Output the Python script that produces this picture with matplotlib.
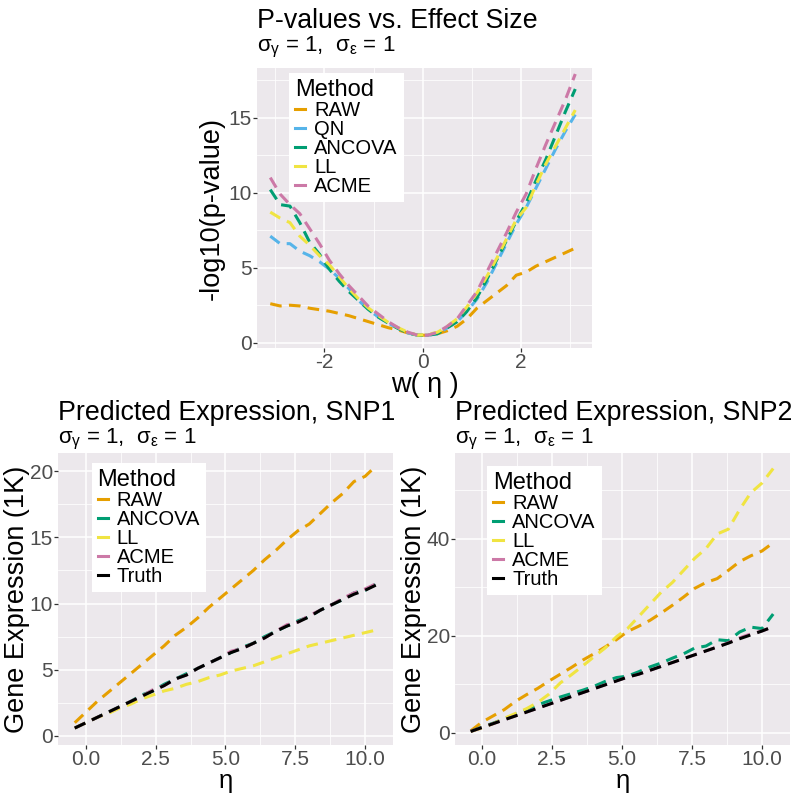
import matplotlib
matplotlib.use("Agg")
import matplotlib.pyplot as plt
from matplotlib.lines import Line2D
from matplotlib.ticker import MultipleLocator

plt.rcParams['font.family'] = ['Liberation Sans', 'DejaVu Sans']
plt.rcParams['mathtext.fontset'] = 'custom'
plt.rcParams['mathtext.rm'] = 'Liberation Sans'
plt.rcParams['mathtext.it'] = 'Liberation Sans'
plt.rcParams['mathtext.bf'] = 'Liberation Sans:bold'
plt.rcParams['axes.unicode_minus'] = False

# ---------------- data ----------------
colors = {'RAW': '#E69F00', 'QN': '#56B4E9', 'ANCOVA': '#009E73',
          'LL': '#F0E442', 'ACME': '#CC79A7', 'Truth': '#000000'}

w_eta = [-3.1, -2.9, -2.7, -2.5, -2.3, -2.1, -1.9, -1.7, -1.5, -1.3, -1.1, -0.9,
         -0.7, -0.5, -0.3, -0.1, 0.1, 0.3, 0.5, 0.7, 0.9, 1.1, 1.3, 1.5, 1.7,
         1.9, 2.1, 2.3, 2.5, 2.7, 2.9, 3.1]
p_raw = [2.6, 2.45, 2.5, 2.45, 2.3, 2.2, 2.1, 1.95, 1.8, 1.6, 1.4, 1.2, 1.0, 0.85,
         0.65, 0.5, 0.5, 0.6, 0.8, 1.1, 1.6, 2.3, 2.8, 3.3, 3.8, 4.5, 4.7, 5.1,
         5.4, 5.7, 6.0, 6.3]
p_qn = [7.1, 6.6, 6.6, 6.1, 5.8, 5.4, 4.9, 4.3, 3.6, 2.8, 2.2, 1.7, 1.3, 0.95,
        0.65, 0.5, 0.5, 0.6, 1.0, 1.4, 2.1, 2.9, 4.0, 5.3, 6.6, 7.9, 9.0, 10.3,
        11.6, 12.9, 14.1, 15.2]
p_ancova = [10.2, 9.2, 9.1, 8.0, 6.7, 5.9, 4.9, 4.1, 3.4, 2.8, 2.2, 1.7, 1.3, 0.95,
            0.65, 0.5, 0.5, 0.6, 1.0, 1.4, 2.1, 3.0, 4.2, 5.5, 6.8, 8.1, 9.3, 10.8,
            12.2, 13.8, 15.4, 16.9]
p_ll = [8.7, 8.3, 8.0, 7.1, 6.5, 5.8, 5.2, 4.4, 3.6, 2.9, 2.3, 1.8, 1.35, 1.0,
        0.7, 0.5, 0.55, 0.7, 1.1, 1.6, 2.4, 3.3, 4.4, 5.6, 6.9, 8.2, 9.0, 10.5,
        11.9, 13.1, 14.3, 15.5]
p_acme = [11.0, 9.9, 9.2, 8.6, 7.6, 6.6, 5.5, 4.6, 3.8, 3.1, 2.4, 1.9, 1.4, 1.0,
          0.7, 0.5, 0.5, 0.7, 1.1, 1.6, 2.5, 3.4, 4.7, 6.0, 7.3, 8.7, 9.9, 11.6,
          13.2, 14.7, 16.2, 17.9]

eta = [-0.4, 0.0, 0.4, 0.8, 1.2, 1.6, 2.0, 2.4, 2.8, 3.2, 3.6, 4.0, 4.4, 4.8,
       5.2, 5.6, 6.0, 6.4, 6.8, 7.2, 7.6, 8.0, 8.4, 8.8, 9.2, 9.6, 10.0, 10.4]

s1_raw = [1.0, 1.8, 2.6, 3.3, 4.0, 4.7, 5.4, 6.1, 6.8, 7.6, 8.2, 8.9, 9.7, 10.4,
          11.1, 11.8, 12.5, 13.3, 14.0, 14.8, 15.5, 16.0, 16.8, 17.6, 18.3, 19.2,
          19.6, 20.4]
s1_ancova = [0.6, 1.0, 1.4, 1.8, 2.2, 2.6, 3.1, 3.4, 3.9, 4.3, 4.7, 5.1, 5.5, 5.9,
             6.3, 6.7, 7.0, 7.5, 7.9, 8.3, 8.7, 9.0, 9.5, 9.9, 10.3, 10.8, 11.0, 11.5]
s1_ll = [0.6, 1.0, 1.4, 1.7, 2.1, 2.4, 2.8, 3.1, 3.4, 3.6, 3.9, 4.1, 4.4, 4.6,
         4.9, 5.1, 5.3, 5.6, 5.9, 6.2, 6.5, 6.8, 7.0, 7.2, 7.4, 7.6, 7.8, 8.0]
s1_acme = [0.6, 1.0, 1.4, 1.8, 2.2, 2.6, 3.0, 3.5, 3.8, 4.3, 4.6, 5.1, 5.5, 5.9,
           6.4, 6.6, 7.0, 7.4, 7.9, 8.4, 8.6, 9.1, 9.5, 9.9, 10.4, 10.8, 11.1, 11.5]
s1_truth = [0.6, 1.0, 1.4, 1.8, 2.2, 2.6, 3.0, 3.4, 3.8, 4.3, 4.6, 5.1, 5.5, 5.9,
            6.3, 6.6, 7.0, 7.4, 7.9, 8.3, 8.6, 9.0, 9.5, 9.9, 10.3, 10.7, 11.0, 11.4]

s2_raw = [0.4, 2.2, 3.5, 4.8, 6.5, 7.9, 9.2, 10.7, 12.1, 13.5, 15.0, 16.3, 17.7,
          19.2, 20.9, 22.0, 23.2, 24.7, 26.3, 28.0, 29.8, 31.0, 31.8, 33.5, 35.3,
          36.5, 37.5, 39.2]
s2_ancova = [0.3, 1.2, 2.0, 2.9, 3.8, 4.8, 5.8, 6.6, 7.4, 8.1, 8.8, 9.6, 10.6, 11.4,
             11.7, 12.6, 13.6, 14.4, 15.4, 16.3, 17.5, 17.9, 19.2, 19.0, 20.8, 21.8,
             21.5, 24.5]
s2_ll = [0.3, 1.0, 1.9, 3.0, 4.0, 5.0, 6.3, 8.0, 10.3, 12.0, 13.8, 15.7, 17.5, 19.8,
         21.5, 24.0, 26.5, 29.0, 31.0, 33.5, 36.0, 38.0, 41.0, 42.0, 46.0, 49.5,
         51.5, 54.5]
s2_acme = [0.3, 1.1, 1.9, 2.7, 3.5, 4.3, 5.1, 5.9, 6.7, 7.5, 8.3, 9.1, 9.9, 10.7,
           11.5, 12.1, 12.9, 13.7, 14.5, 15.3, 16.1, 16.9, 17.7, 18.6, 19.6, 20.4,
           21.0, 21.9]
s2_truth = [0.3, 1.1, 1.9, 2.7, 3.5, 4.3, 5.1, 5.9, 6.7, 7.5, 8.3, 9.1, 9.9, 10.7,
            11.5, 12.1, 12.9, 13.7, 14.5, 15.3, 16.1, 16.9, 17.7, 18.5, 19.4, 20.2,
            21.0, 21.9]

subtitle = r'$\sigma_{\gamma}$ = 1,  $\sigma_{\varepsilon}$ = 1'

# ---------------- figure ----------------
W, H = 800, 795
fig = plt.figure(figsize=(W / 100, H / 100), dpi=100)

PANEL_BG = '#ECE8EC'
TICK_COL = '#4D4D4D'
LW = 2.2
DASH = (3.8, 2.4)
TICK_FS = 15
LAB_FS = 19.5


def px_axes(l, t, r, b):
    return fig.add_axes([l / W, 1 - b / H, (r - l) / W, (b - t) / H])


def style(ax, xmaj, xmin, ymaj, ymin):
    ax.set_facecolor(PANEL_BG)
    for s in ax.spines.values():
        s.set_visible(False)
    ax.xaxis.set_major_locator(MultipleLocator(xmaj))
    ax.xaxis.set_minor_locator(MultipleLocator(xmin))
    ax.yaxis.set_major_locator(MultipleLocator(ymaj))
    ax.yaxis.set_minor_locator(MultipleLocator(ymin))
    ax.grid(which='major', color='white', lw=1.1)
    ax.grid(which='minor', color='white', lw=0.55)
    ax.set_axisbelow(True)
    ax.tick_params(which='major', length=2.75, width=0.9, color='#333333',
                   labelsize=TICK_FS, labelcolor=TICK_COL, pad=1.0)
    ax.tick_params(which='minor', length=0)


def titles(ax_left_px, title_base, sub_base, title):
    fig.text(ax_left_px / W, 1 - title_base / H, title, fontsize=19.3,
             ha='left', va='baseline', color='black')
    fig.text(ax_left_px / W, 1 - sub_base / H, subtitle, fontsize=16,
             ha='left', va='baseline', color='black')


def legend(ax, names, x0, y0):
    handles = [Line2D([0], [0], color=colors[n], lw=LW) for n in names]
    leg = ax.legend(handles, names, title='Method', loc='upper left',
                    bbox_to_anchor=(x0, y0), frameon=True, fancybox=False,
                    framealpha=1, edgecolor='white', facecolor='white',
                    fontsize=14.5, title_fontsize=17, handlelength=0.5,
                    handletextpad=0.45, labelspacing=0.0, borderpad=0.3,
                    borderaxespad=0)
    leg._legend_box.align = 'left'
    leg.get_frame().set_linewidth(0)
    return leg


def dline(ax, x, y, name):
    ax.plot(x, y, color=colors[name], lw=LW, linestyle=(0, DASH))


# ---- top panel ----
ax1 = px_axes(257, 68, 592, 348)
style(ax1, 2, 1, 5, 2.5)
for name, ys in [('RAW', p_raw), ('QN', p_qn), ('ANCOVA', p_ancova),
                 ('LL', p_ll), ('ACME', p_acme)]:
    dline(ax1, w_eta, ys, name)
ax1.set_xlim(-3.37, 3.44)
ax1.set_ylim(-0.35, 18.3)
ax1.set_xlabel('w( η )', fontsize=LAB_FS, labelpad=0)
ax1.set_ylabel('-log10(p-value)', fontsize=LAB_FS, labelpad=3)
legend(ax1, ['RAW', 'QN', 'ANCOVA', 'LL', 'ACME'], 0.096, 0.982)
titles(257, 28, 51, 'P-values vs. Effect Size')

# ---- bottom left ----
ax2 = px_axes(58, 453, 393, 745)
style(ax2, 2.5, 1.25, 5, 2.5)
for name, ys in [('RAW', s1_raw), ('ANCOVA', s1_ancova), ('LL', s1_ll),
                 ('ACME', s1_acme), ('Truth', s1_truth)]:
    dline(ax2, eta, ys, name)
ax2.set_xlim(-1.0, 11.0)
ax2.set_ylim(-0.68, 21.36)
ax2.set_xticks([0, 2.5, 5, 7.5, 10])
ax2.set_xticklabels(['0.0', '2.5', '5.0', '7.5', '10.0'])
ax2.set_xlabel('η', fontsize=18.5, labelpad=0)
ax2.set_ylabel('Gene Expression (1K)', fontsize=LAB_FS)
ax2.yaxis.set_label_coords(-0.085, 0.5)
legend(ax2, ['RAW', 'ANCOVA', 'LL', 'ACME', 'Truth'], 0.10, 0.966)
titles(58, 420, 443, 'Predicted Expression, SNP1')

# ---- bottom right ----
ax3 = px_axes(455, 453, 790, 745)
style(ax3, 2.5, 1.25, 20, 10)
for name, ys in [('RAW', s2_raw), ('ANCOVA', s2_ancova), ('LL', s2_ll),
                 ('ACME', s2_acme), ('Truth', s2_truth)]:
    dline(ax3, eta, ys, name)
ax3.set_xlim(-0.96, 11.0)
ax3.set_ylim(-2.5, 57.7)
ax3.set_xticks([0, 2.5, 5, 7.5, 10])
ax3.set_xticklabels(['0.0', '2.5', '5.0', '7.5', '10.0'])
ax3.set_xlabel('η', fontsize=18.5, labelpad=0)
ax3.set_ylabel('Gene Expression (1K)', fontsize=LAB_FS)
ax3.yaxis.set_label_coords(-0.085, 0.5)
legend(ax3, ['RAW', 'ANCOVA', 'LL', 'ACME', 'Truth'], 0.096, 0.955)
titles(455, 420, 443, 'Predicted Expression, SNP2')

fig.savefig('out.png', dpi=100, facecolor='white')
